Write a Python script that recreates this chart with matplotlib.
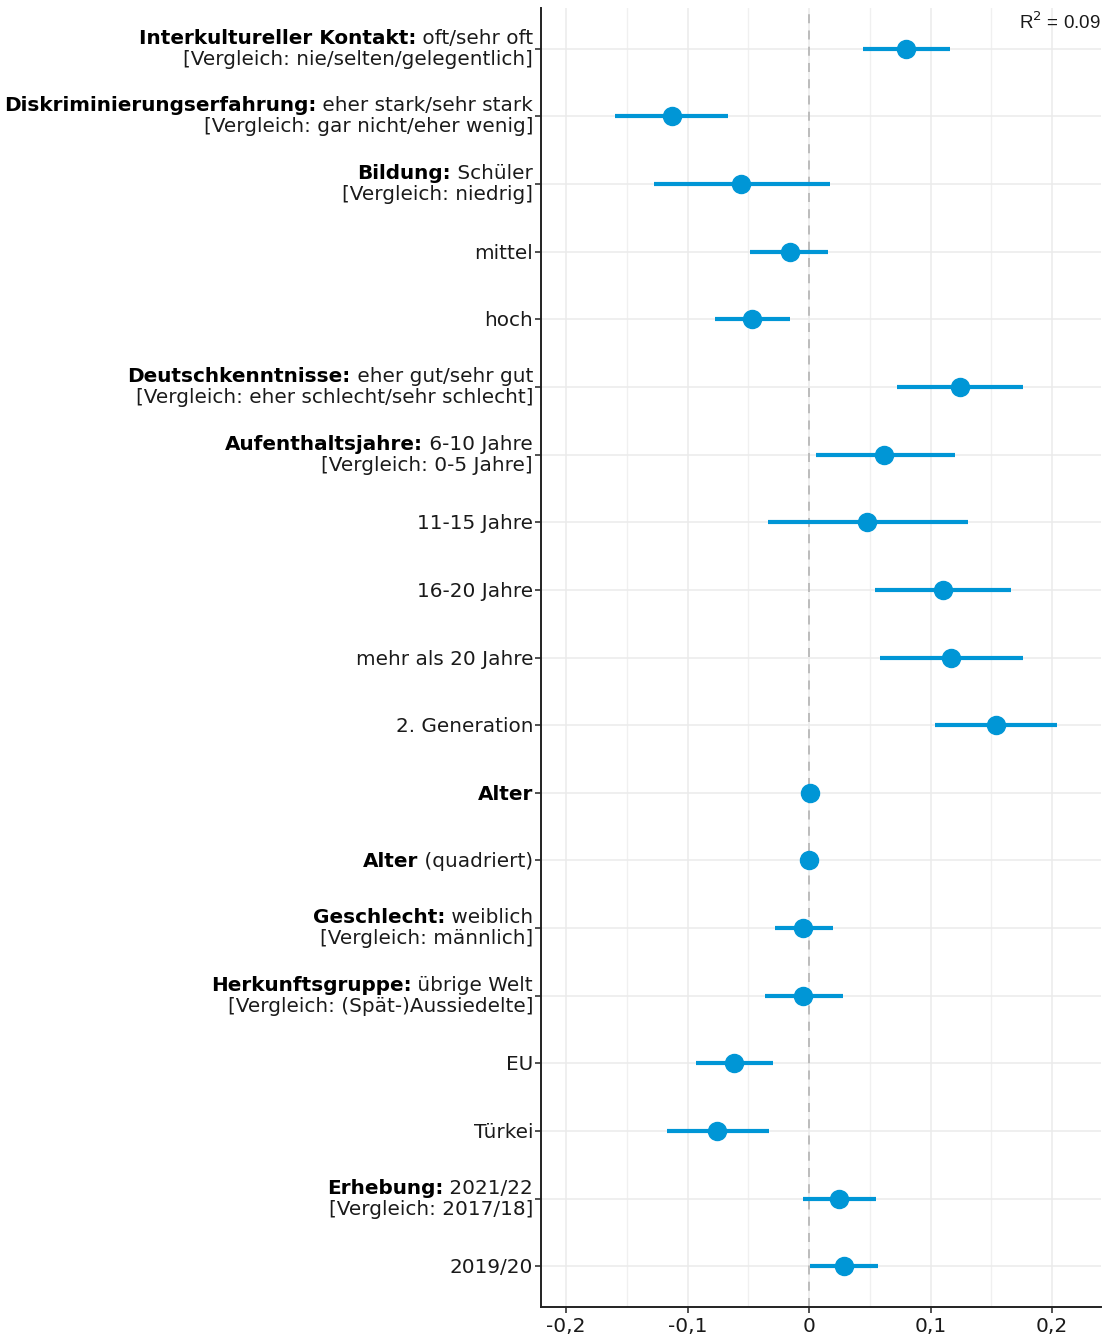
import numpy as np
import matplotlib
matplotlib.use("Agg")
import matplotlib.pyplot as plt
from matplotlib.transforms import blended_transform_factory, offset_copy

# label parts: bold lead, regular rest, second line (reference category)
bold_parts = [
    "Interkultureller Kontakt:", "Diskriminierungserfahrung:", "Bildung:", "", "",
    "Deutschkenntnisse:", "Aufenthaltsjahre:", "", "", "", "",
    "Alter", "Alter", "Geschlecht:", "Herkunftsgruppe:", "", "", "Erhebung:", "",
]
regular_parts = [
    " oft/sehr oft", " eher stark/sehr stark", " Schüler", "mittel", "hoch",
    " eher gut/sehr gut", " 6-10 Jahre", "11-15 Jahre", "16-20 Jahre",
    "mehr als 20 Jahre", "2. Generation",
    "", " (quadriert)", " weiblich", " übrige Welt", "EU", "Türkei", " 2021/22", "2019/20",
]
second_lines = [
    "[Vergleich: nie/selten/gelegentlich]", "[Vergleich: gar nicht/eher wenig]",
    "[Vergleich: niedrig]", "", "",
    "[Vergleich: eher schlecht/sehr schlecht]", "[Vergleich: 0-5 Jahre]", "", "", "", "",
    "", "", "[Vergleich: männlich]", "[Vergleich: (Spät-)Aussiedelte]", "", "",
    "[Vergleich: 2017/18]", "",
]

estimate = [0.080, -0.113, -0.056, -0.016, -0.047,
            0.124, 0.062, 0.048, 0.110, 0.117, 0.154,
            0.001, 0.000, -0.005, -0.005, -0.062, -0.076, 0.025, 0.029]
ci_low = [0.044, -0.160, -0.128, -0.049, -0.077,
          0.072, 0.006, -0.034, 0.054, 0.058, 0.104,
          0.000, -0.001, -0.028, -0.036, -0.093, -0.117, -0.005, 0.001]
ci_high = [0.116, -0.067, 0.017, 0.016, -0.016,
           0.176, 0.120, 0.131, 0.166, 0.176, 0.204,
           0.002, 0.001, 0.020, 0.028, -0.030, -0.033, 0.055, 0.057]

x_ticks = [-0.2, -0.1, 0, 0.1, 0.2]
x_tick_labels = ["-0,2", "-0,1", "0", "0,1", "0,2"]
r2_value = "0.09"

blue = "#0096d6"
n = len(estimate)
ypos = np.arange(n)[::-1] + 1  # first item on top

fig = plt.figure(figsize=(11.05, 13.39), dpi=100)
ax = fig.add_axes([0.4896, 0.0239, 0.9964 - 0.4896, 0.994 - 0.0239])

ax.set_xlim(-0.2206, 0.2403)
ax.set_ylim(0.4, n + 0.6)

# grid like ggplot theme_minimal
ax.set_xticks(x_ticks)
ax.set_xticks([-0.15, -0.05, 0.05, 0.15], minor=True)
ax.set_yticks(ypos)
ax.grid(True, which="major", color="#ebebeb", linewidth=1.1)
ax.grid(True, which="minor", axis="x", color="#f0f0f0", linewidth=1.0)
ax.set_axisbelow(True)
ax.axvline(0, color="#b8b8b8", linestyle=(0, (5, 4)), linewidth=1.3, zorder=1)

ax.hlines(ypos, ci_low, ci_high, color=blue, linewidth=3.0, zorder=3)
ax.plot(estimate, ypos, "o", color=blue, markersize=13, zorder=4)

for side in ["top", "right"]:
    ax.spines[side].set_visible(False)
for side in ["left", "bottom"]:
    ax.spines[side].set_color("#222222")
    ax.spines[side].set_linewidth(1.4)

ax.tick_params(axis="both", which="major", length=4, width=1.1, color="#222222")
ax.tick_params(axis="x", which="minor", length=0)
ax.set_xticklabels(x_tick_labels, fontsize=14.5, color="#1a1a1a")
ax.tick_params(axis="x", pad=3)
ax.set_yticklabels([""] * n)

# y labels with mixed bold / regular text
fig.canvas.draw()
renderer = fig.canvas.get_renderer()
base = blended_transform_factory(ax.transAxes, ax.transData)
pad = 8
fs = 14.4
txtcol = "#1a1a1a"
for i in range(n):
    y = ypos[i]
    two = second_lines[i] != ""
    dy1 = 5 if two else -7
    t_reg = ax.text(0, y, regular_parts[i], fontsize=fs, color=txtcol, ha="right", va="baseline",
                    transform=offset_copy(base, fig, x=-pad, y=dy1, units="dots"))
    w = t_reg.get_window_extent(renderer).width if regular_parts[i] else 0
    if bold_parts[i]:
        ax.text(0, y, bold_parts[i], fontsize=fs, color="black", fontweight="bold",
                ha="right", va="baseline",
                transform=offset_copy(base, fig, x=-pad - w, y=dy1, units="dots"))
    if two:
        ax.text(0, y, second_lines[i], fontsize=fs, color=txtcol, ha="right", va="baseline",
                transform=offset_copy(base, fig, x=-pad, y=-16, units="dots"))

fig.text(0.9964, 1 - 29 / 1339, "R$^2$ = " + r2_value, ha="right", va="baseline",
         fontsize=13.5, family="Liberation Sans", color="#1a1a1a")

fig.savefig("out.png", dpi=100)
